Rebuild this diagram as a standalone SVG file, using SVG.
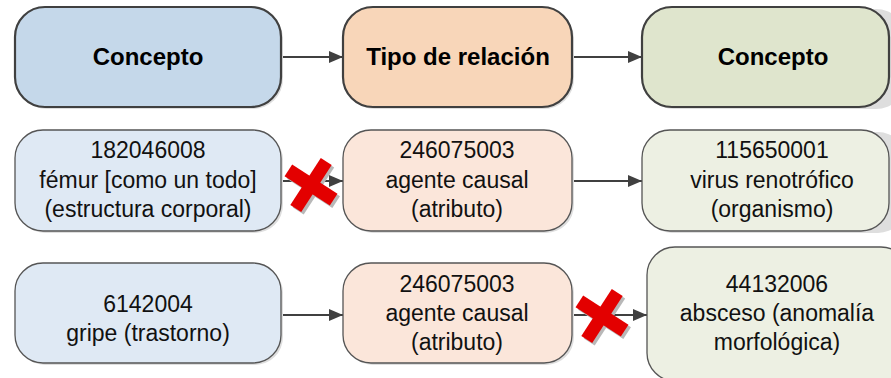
<svg xmlns="http://www.w3.org/2000/svg" width="891" height="378" viewBox="0 0 891 378">
<style>
.hdr{stroke:#404040;stroke-width:2.2}
.box{stroke:#555555;stroke-width:1.3}
.sh{fill:#dedede}
.t1{font-family:"Liberation Sans",Arial,sans-serif;font-weight:bold;font-size:24px;fill:#000;text-anchor:middle}
.t2{font-family:"Liberation Sans",Arial,sans-serif;font-size:23px;fill:#111;text-anchor:middle}
.conn{stroke:#404040;stroke-width:2;fill:none;marker-end:url(#ah)}
.b1h{fill:#c5d8ea}.b2h{fill:#f8d6b9}.b3h{fill:#dfe5cd}
.b1{fill:#dfe9f4}.b2{fill:#fbe6da}.b3{fill:#edf0e3}
</style>
<defs>
<marker id="ah" viewBox="0 0 14 12" refX="14" refY="6" markerWidth="14" markerHeight="12" markerUnits="userSpaceOnUse" orient="auto">
<path d="M0,0 L14,6 L0,12 Z" fill="#404040"/>
</marker>
<g id="xmark">
<g fill="#b8b8b8" transform="translate(2.5,2.5)">
<rect x="-27" y="-7" width="54" height="14" transform="rotate(33)"/>
<rect x="-28" y="-6.5" width="56" height="13" transform="rotate(-57)"/>
</g>
<g fill="#e30000">
<rect x="-27" y="-7" width="54" height="14" transform="rotate(33)"/>
<rect x="-28" y="-6.5" width="56" height="13" transform="rotate(-57)"/>
</g>
</g>
</defs>

<g id="connectors">
<line class="conn" x1="281" y1="57" x2="343" y2="57"/>
<line class="conn" x1="572" y1="57" x2="642" y2="57"/>
<line class="conn" x1="281" y1="181" x2="343" y2="181"/>
<line class="conn" x1="572" y1="181" x2="642" y2="181"/>
<line class="conn" x1="281" y1="315" x2="343" y2="315"/>
<line class="conn" x1="572" y1="315" x2="647" y2="315"/>
</g>

<g id="hdr-concepto1">
<rect class="sh" x="17" y="9" width="266" height="100" rx="30"/>
<rect class="hdr b1h" x="15" y="7" width="266" height="100" rx="30"/>
<text class="t1" x="148" y="65">Concepto</text>
</g>
<g id="hdr-tipo">
<rect class="sh" x="345" y="9" width="229" height="100" rx="30"/>
<rect class="hdr b2h" x="343" y="7" width="229" height="100" rx="30"/>
<text class="t1" x="458" y="65">Tipo de relación</text>
</g>
<g id="hdr-concepto2">
<rect class="sh" x="644" y="9" width="262" height="100" rx="30"/>
<rect class="hdr b3h" x="642" y="7" width="247" height="100" rx="30"/>
<text class="t1" x="773" y="65">Concepto</text>
</g>

<g id="femur">
<rect class="sh" x="17" y="132" width="266" height="101" rx="28"/>
<rect class="box b1" x="15" y="130" width="266" height="101" rx="28"/>
<text class="t2" x="148" y="158">182046008</text>
<text class="t2" x="148" y="188">fémur [como un todo]</text>
<text class="t2" x="148" y="217">(estructura corporal)</text>
</g>
<g id="agente1">
<rect class="sh" x="345" y="132" width="229" height="101" rx="28"/>
<rect class="box b2" x="343" y="130" width="229" height="101" rx="28"/>
<text class="t2" x="457" y="158">246075003</text>
<text class="t2" x="457" y="188">agente causal</text>
<text class="t2" x="457" y="217">(atributo)</text>
</g>
<g id="virus">
<rect class="sh" x="644" y="132" width="262" height="101" rx="28"/>
<rect class="box b3" x="642" y="130" width="247" height="101" rx="28"/>
<text class="t2" x="772" y="158">115650001</text>
<text class="t2" x="772" y="188">virus renotrófico</text>
<text class="t2" x="772" y="217">(organismo)</text>
</g>

<g id="gripe">
<rect class="sh" x="17" y="265" width="266" height="100" rx="28"/>
<rect class="box b1" x="15" y="263" width="266" height="100" rx="28"/>
<text class="t2" x="148" y="312">6142004</text>
<text class="t2" x="148" y="341">gripe (trastorno)</text>
</g>
<g id="agente2">
<rect class="sh" x="345" y="265" width="229" height="100" rx="28"/>
<rect class="box b2" x="343" y="263" width="229" height="100" rx="28"/>
<text class="t2" x="457" y="292">246075003</text>
<text class="t2" x="457" y="321">agente causal</text>
<text class="t2" x="457" y="350">(atributo)</text>
</g>
<g id="absceso">
<rect class="box b3" x="647" y="247" width="262" height="134" rx="28"/>
<text class="t2" x="777" y="292">44132006</text>
<text class="t2" x="777" y="321">absceso (anomalía</text>
<text class="t2" x="777" y="350">morfológica)</text>
</g>

<g id="cross1"><use href="#xmark" transform="translate(311,185)"/></g>
<g id="cross2"><use href="#xmark" transform="translate(602,316)"/></g>
</svg>
